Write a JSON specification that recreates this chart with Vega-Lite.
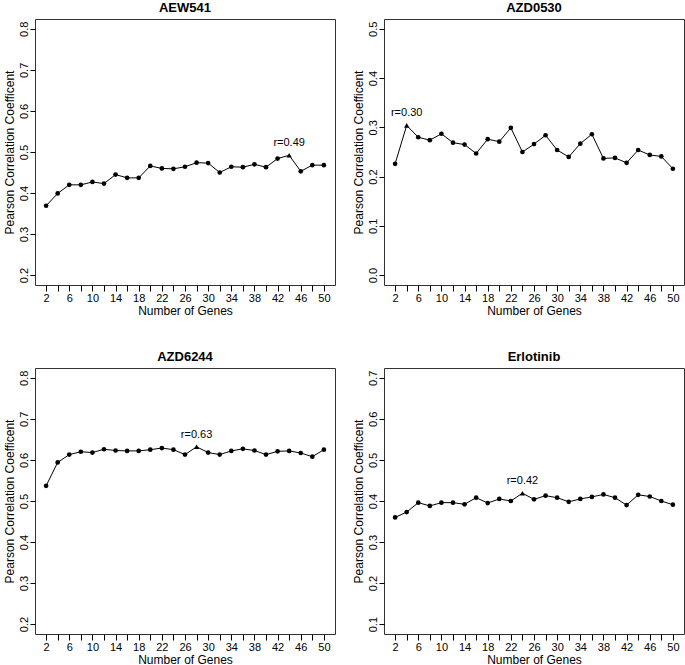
{
  "$schema": "https://vega.github.io/schema/vega-lite/v6.json",
  "padding": {"left": 2, "top": 1, "right": 0, "bottom": 0},
  "bounds": "flush",
  "columns": 2,
  "spacing": {"row": 83, "column": 49},
  "datasets": {
    "d": [
      {"drug": "AEW541", "genes": 2, "r": 0.369},
      {"drug": "AEW541", "genes": 4, "r": 0.399},
      {"drug": "AEW541", "genes": 6, "r": 0.420},
      {"drug": "AEW541", "genes": 8, "r": 0.420},
      {"drug": "AEW541", "genes": 10, "r": 0.427},
      {"drug": "AEW541", "genes": 12, "r": 0.423},
      {"drug": "AEW541", "genes": 14, "r": 0.445},
      {"drug": "AEW541", "genes": 16, "r": 0.437},
      {"drug": "AEW541", "genes": 18, "r": 0.437},
      {"drug": "AEW541", "genes": 20, "r": 0.466},
      {"drug": "AEW541", "genes": 22, "r": 0.460},
      {"drug": "AEW541", "genes": 24, "r": 0.459},
      {"drug": "AEW541", "genes": 26, "r": 0.464},
      {"drug": "AEW541", "genes": 28, "r": 0.474},
      {"drug": "AEW541", "genes": 30, "r": 0.473},
      {"drug": "AEW541", "genes": 32, "r": 0.450},
      {"drug": "AEW541", "genes": 34, "r": 0.464},
      {"drug": "AEW541", "genes": 36, "r": 0.463},
      {"drug": "AEW541", "genes": 38, "r": 0.470},
      {"drug": "AEW541", "genes": 40, "r": 0.463},
      {"drug": "AEW541", "genes": 42, "r": 0.484},
      {"drug": "AEW541", "genes": 44, "r": 0.492},
      {"drug": "AEW541", "genes": 46, "r": 0.453},
      {"drug": "AEW541", "genes": 48, "r": 0.468},
      {"drug": "AEW541", "genes": 50, "r": 0.468},
      {"drug": "AZD0530", "genes": 2, "r": 0.226},
      {"drug": "AZD0530", "genes": 4, "r": 0.304},
      {"drug": "AZD0530", "genes": 6, "r": 0.280},
      {"drug": "AZD0530", "genes": 8, "r": 0.274},
      {"drug": "AZD0530", "genes": 10, "r": 0.287},
      {"drug": "AZD0530", "genes": 12, "r": 0.269},
      {"drug": "AZD0530", "genes": 14, "r": 0.265},
      {"drug": "AZD0530", "genes": 16, "r": 0.247},
      {"drug": "AZD0530", "genes": 18, "r": 0.276},
      {"drug": "AZD0530", "genes": 20, "r": 0.271},
      {"drug": "AZD0530", "genes": 22, "r": 0.299},
      {"drug": "AZD0530", "genes": 24, "r": 0.250},
      {"drug": "AZD0530", "genes": 26, "r": 0.266},
      {"drug": "AZD0530", "genes": 28, "r": 0.284},
      {"drug": "AZD0530", "genes": 30, "r": 0.254},
      {"drug": "AZD0530", "genes": 32, "r": 0.240},
      {"drug": "AZD0530", "genes": 34, "r": 0.267},
      {"drug": "AZD0530", "genes": 36, "r": 0.286},
      {"drug": "AZD0530", "genes": 38, "r": 0.237},
      {"drug": "AZD0530", "genes": 40, "r": 0.238},
      {"drug": "AZD0530", "genes": 42, "r": 0.228},
      {"drug": "AZD0530", "genes": 44, "r": 0.254},
      {"drug": "AZD0530", "genes": 46, "r": 0.244},
      {"drug": "AZD0530", "genes": 48, "r": 0.241},
      {"drug": "AZD0530", "genes": 50, "r": 0.216},
      {"drug": "AZD6244", "genes": 2, "r": 0.537},
      {"drug": "AZD6244", "genes": 4, "r": 0.594},
      {"drug": "AZD6244", "genes": 6, "r": 0.613},
      {"drug": "AZD6244", "genes": 8, "r": 0.620},
      {"drug": "AZD6244", "genes": 10, "r": 0.618},
      {"drug": "AZD6244", "genes": 12, "r": 0.626},
      {"drug": "AZD6244", "genes": 14, "r": 0.623},
      {"drug": "AZD6244", "genes": 16, "r": 0.622},
      {"drug": "AZD6244", "genes": 18, "r": 0.622},
      {"drug": "AZD6244", "genes": 20, "r": 0.625},
      {"drug": "AZD6244", "genes": 22, "r": 0.629},
      {"drug": "AZD6244", "genes": 24, "r": 0.625},
      {"drug": "AZD6244", "genes": 26, "r": 0.613},
      {"drug": "AZD6244", "genes": 28, "r": 0.632},
      {"drug": "AZD6244", "genes": 30, "r": 0.618},
      {"drug": "AZD6244", "genes": 32, "r": 0.613},
      {"drug": "AZD6244", "genes": 34, "r": 0.622},
      {"drug": "AZD6244", "genes": 36, "r": 0.627},
      {"drug": "AZD6244", "genes": 38, "r": 0.623},
      {"drug": "AZD6244", "genes": 40, "r": 0.613},
      {"drug": "AZD6244", "genes": 42, "r": 0.621},
      {"drug": "AZD6244", "genes": 44, "r": 0.622},
      {"drug": "AZD6244", "genes": 46, "r": 0.617},
      {"drug": "AZD6244", "genes": 48, "r": 0.608},
      {"drug": "AZD6244", "genes": 50, "r": 0.625},
      {"drug": "Erlotinib", "genes": 2, "r": 0.360},
      {"drug": "Erlotinib", "genes": 4, "r": 0.373},
      {"drug": "Erlotinib", "genes": 6, "r": 0.396},
      {"drug": "Erlotinib", "genes": 8, "r": 0.388},
      {"drug": "Erlotinib", "genes": 10, "r": 0.396},
      {"drug": "Erlotinib", "genes": 12, "r": 0.396},
      {"drug": "Erlotinib", "genes": 14, "r": 0.392},
      {"drug": "Erlotinib", "genes": 16, "r": 0.408},
      {"drug": "Erlotinib", "genes": 18, "r": 0.395},
      {"drug": "Erlotinib", "genes": 20, "r": 0.405},
      {"drug": "Erlotinib", "genes": 22, "r": 0.400},
      {"drug": "Erlotinib", "genes": 24, "r": 0.419},
      {"drug": "Erlotinib", "genes": 26, "r": 0.404},
      {"drug": "Erlotinib", "genes": 28, "r": 0.413},
      {"drug": "Erlotinib", "genes": 30, "r": 0.408},
      {"drug": "Erlotinib", "genes": 32, "r": 0.398},
      {"drug": "Erlotinib", "genes": 34, "r": 0.405},
      {"drug": "Erlotinib", "genes": 36, "r": 0.410},
      {"drug": "Erlotinib", "genes": 38, "r": 0.416},
      {"drug": "Erlotinib", "genes": 40, "r": 0.408},
      {"drug": "Erlotinib", "genes": 42, "r": 0.390},
      {"drug": "Erlotinib", "genes": 44, "r": 0.415},
      {"drug": "Erlotinib", "genes": 46, "r": 0.411},
      {"drug": "Erlotinib", "genes": 48, "r": 0.400},
      {"drug": "Erlotinib", "genes": 50, "r": 0.391}
    ]
  },
  "config": {
    "font": "Liberation Sans",
    "view": {"stroke": "#333", "strokeWidth": 1},
    "axis": {"grid": false, "domain": false, "tickColor": "#000", "labelColor": "#000", "titleColor": "#000", "labelFontSize": 11, "titleFontSize": 12, "titleFontWeight": "normal", "labelFont": "Liberation Sans", "titleFont": "Liberation Sans"},
    "axisX": {"tickSize": 6, "labelPadding": 1, "titlePadding": 2, "labelAngle": 0},
    "axisY": {"tickSize": 5, "labelAngle": -90, "labelAlign": "center", "labelBaseline": "bottom", "labelPadding": 1, "titlePadding": 2},
    "title": {"fontSize": 13, "fontWeight": "bold", "offset": 4, "color": "#000", "font": "Liberation Sans"}
  },
  "concat": [
    {
      "width": 300, "height": 266, "title": "AEW541",
      "data": {"name": "d"},
      "transform": [{"filter": "datum.drug == 'AEW541'"}, {"joinaggregate": [{"op": "max", "field": "r", "as": "rmax"}]}, {"calculate": "'r=' + format(datum.r, '.2f')", "as": "lab"}],
      "encoding": {
        "x": {"field": "genes", "type": "quantitative", "scale": {"domain": [0.08, 51.92], "nice": false, "zero": false}, "axis": {"values": [2,4,6,8,10,12,14,16,18,20,22,24,26,28,30,32,34,36,38,40,42,44,46,48,50], "labelExpr": "(datum.value - 2) % 4 == 0 ? datum.label : ''", "title": "Number of Genes"}},
        "y": {"field": "r", "type": "quantitative", "scale": {"domain": [0.176, 0.824], "nice": false, "zero": false}, "axis": {"values": [0.2,0.3,0.4,0.5,0.6,0.7,0.8], "format": ".1f", "title": "Pearson Correlation Coefficent"}}
      },
      "layer": [
        {"mark": {"type": "line", "color": "#000", "strokeWidth": 1}, "encoding": {}},
        {"transform": [{"filter": "datum.r < datum.rmax"}], "mark": {"type": "circle", "color": "#000", "opacity": 1, "size": 22}},
        {"transform": [{"filter": "datum.r == datum.rmax"}], "mark": {"type": "point", "shape": "triangle-up", "filled": true, "color": "#000", "opacity": 1, "size": 28}},
        {"transform": [{"filter": "datum.r == datum.rmax"}], "mark": {"type": "text", "dy": -12, "fontSize": 11, "color": "#000"}, "encoding": {"text": {"field": "lab"}}}
      ]
    },
    {
      "width": 300, "height": 266, "title": "AZD0530",
      "data": {"name": "d"},
      "transform": [{"filter": "datum.drug == 'AZD0530'"}, {"joinaggregate": [{"op": "max", "field": "r", "as": "rmax"}]}, {"calculate": "'r=' + format(datum.r, '.2f')", "as": "lab"}],
      "encoding": {
        "x": {"field": "genes", "type": "quantitative", "scale": {"domain": [0.08, 51.92], "nice": false, "zero": false}, "axis": {"values": [2,4,6,8,10,12,14,16,18,20,22,24,26,28,30,32,34,36,38,40,42,44,46,48,50], "labelExpr": "(datum.value - 2) % 4 == 0 ? datum.label : ''", "title": "Number of Genes"}},
        "y": {"field": "r", "type": "quantitative", "scale": {"domain": [-0.02, 0.52], "nice": false, "zero": false}, "axis": {"values": [0,0.1,0.2,0.3,0.4,0.5], "format": ".1f", "title": "Pearson Correlation Coefficent"}}
      },
      "layer": [
        {"mark": {"type": "line", "color": "#000", "strokeWidth": 1}, "encoding": {}},
        {"transform": [{"filter": "datum.r < datum.rmax"}], "mark": {"type": "circle", "color": "#000", "opacity": 1, "size": 22}},
        {"transform": [{"filter": "datum.r == datum.rmax"}], "mark": {"type": "point", "shape": "triangle-up", "filled": true, "color": "#000", "opacity": 1, "size": 28}},
        {"transform": [{"filter": "datum.r == datum.rmax"}], "mark": {"type": "text", "dy": -12, "fontSize": 11, "color": "#000"}, "encoding": {"text": {"field": "lab"}}}
      ]
    },
    {
      "width": 300, "height": 266, "title": "AZD6244",
      "data": {"name": "d"},
      "transform": [{"filter": "datum.drug == 'AZD6244'"}, {"joinaggregate": [{"op": "max", "field": "r", "as": "rmax"}]}, {"calculate": "'r=' + format(datum.r, '.2f')", "as": "lab"}],
      "encoding": {
        "x": {"field": "genes", "type": "quantitative", "scale": {"domain": [0.08, 51.92], "nice": false, "zero": false}, "axis": {"values": [2,4,6,8,10,12,14,16,18,20,22,24,26,28,30,32,34,36,38,40,42,44,46,48,50], "labelExpr": "(datum.value - 2) % 4 == 0 ? datum.label : ''", "title": "Number of Genes"}},
        "y": {"field": "r", "type": "quantitative", "scale": {"domain": [0.176, 0.824], "nice": false, "zero": false}, "axis": {"values": [0.2,0.3,0.4,0.5,0.6,0.7,0.8], "format": ".1f", "title": "Pearson Correlation Coefficent"}}
      },
      "layer": [
        {"mark": {"type": "line", "color": "#000", "strokeWidth": 1}, "encoding": {}},
        {"transform": [{"filter": "datum.r < datum.rmax"}], "mark": {"type": "circle", "color": "#000", "opacity": 1, "size": 22}},
        {"transform": [{"filter": "datum.r == datum.rmax"}], "mark": {"type": "point", "shape": "triangle-up", "filled": true, "color": "#000", "opacity": 1, "size": 28}},
        {"transform": [{"filter": "datum.r == datum.rmax"}], "mark": {"type": "text", "dy": -12, "fontSize": 11, "color": "#000"}, "encoding": {"text": {"field": "lab"}}}
      ]
    },
    {
      "width": 300, "height": 266, "title": "Erlotinib",
      "data": {"name": "d"},
      "transform": [{"filter": "datum.drug == 'Erlotinib'"}, {"joinaggregate": [{"op": "max", "field": "r", "as": "rmax"}]}, {"calculate": "'r=' + format(datum.r, '.2f')", "as": "lab"}],
      "encoding": {
        "x": {"field": "genes", "type": "quantitative", "scale": {"domain": [0.08, 51.92], "nice": false, "zero": false}, "axis": {"values": [2,4,6,8,10,12,14,16,18,20,22,24,26,28,30,32,34,36,38,40,42,44,46,48,50], "labelExpr": "(datum.value - 2) % 4 == 0 ? datum.label : ''", "title": "Number of Genes"}},
        "y": {"field": "r", "type": "quantitative", "scale": {"domain": [0.076, 0.724], "nice": false, "zero": false}, "axis": {"values": [0.1,0.2,0.3,0.4,0.5,0.6,0.7], "format": ".1f", "title": "Pearson Correlation Coefficent"}}
      },
      "layer": [
        {"mark": {"type": "line", "color": "#000", "strokeWidth": 1}, "encoding": {}},
        {"transform": [{"filter": "datum.r < datum.rmax"}], "mark": {"type": "circle", "color": "#000", "opacity": 1, "size": 22}},
        {"transform": [{"filter": "datum.r == datum.rmax"}], "mark": {"type": "point", "shape": "triangle-up", "filled": true, "color": "#000", "opacity": 1, "size": 28}},
        {"transform": [{"filter": "datum.r == datum.rmax"}], "mark": {"type": "text", "dy": -12, "fontSize": 11, "color": "#000"}, "encoding": {"text": {"field": "lab"}}}
      ]
    }
  ]
}
